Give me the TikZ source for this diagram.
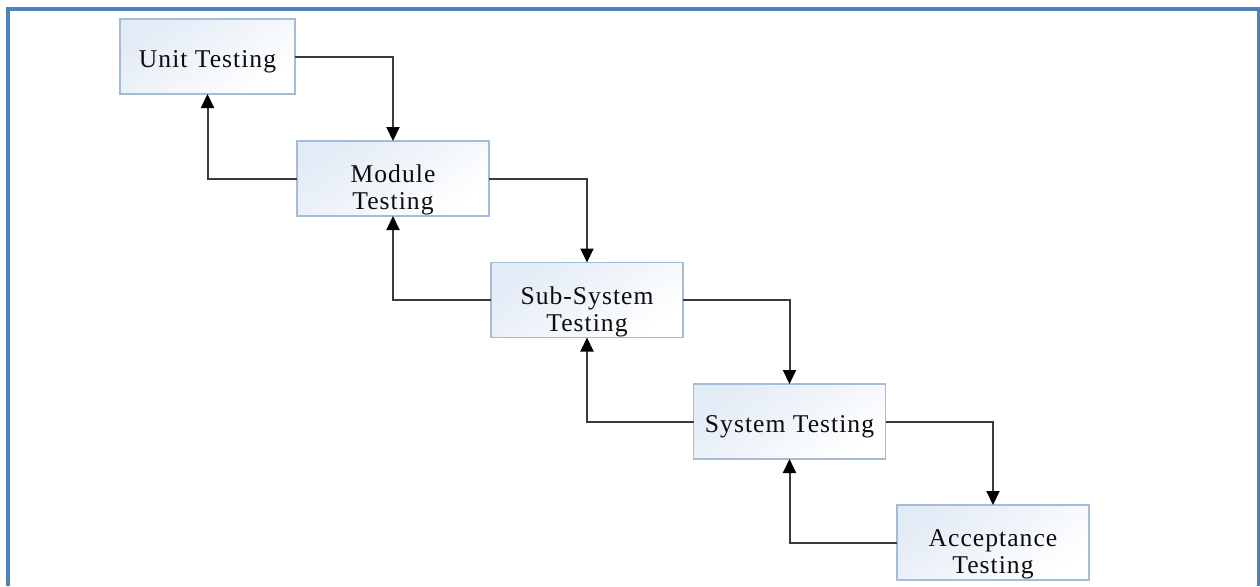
\documentclass[tikz,border=0pt]{standalone}
\usepackage{fontspec}
\setmainfont[LetterSpace=4]{Liberation Serif}
\usetikzlibrary{arrows.meta}
\definecolor{framecol}{HTML}{4F81BD}
\definecolor{boxedge}{HTML}{A3BCDA}
\definecolor{boxtint}{HTML}{E3EBF6}
\definecolor{linecol}{HTML}{3A3A3A}
\tikzset{
  stage/.style={draw=boxedge, line width=0.7pt, shading=axis,
    top color=boxtint, bottom color=white, shading angle=35,
    minimum width=96pt, minimum height=37.5pt, inner sep=0pt, outer sep=0pt},
  stagetext/.style={align=center, inner sep=0pt,
    font=\fontsize{12.8}{13.3}\selectfont, text=black!95},
  flow/.style={draw=linecol, line width=1pt,
    -{Triangle[length=7pt,width=6.5pt,color=black]}}
}
\begin{document}
\begin{tikzpicture}[x=0.5pt, y=-0.5pt]
  \useasboundingbox (0,0) rectangle (1260,586);
  % page frame
  \draw[framecol, line width=2pt] (8,586) -- (8,9) -- (1258.5,9) -- (1258.5,586);

  % testing stages
  \node[stage, minimum width=87.5pt] (unit) at (207.5,56.5) {};
  \node[stage] (module) at (393,178.5) {};
  \node[stage] (sub) at (587,300) {};
  \node[stage] (sys) at (789.5,421.5) {};
  \node[stage] (acc) at (993,542.5) {};

  % stage captions, set a little below the box centres
  \node[stagetext] (unit-t) at ([yshift=-2.5pt]unit.center) {Unit Testing};
  \node[stagetext] (module-t) at ([yshift=-5.8pt]module.center) {Module\\Testing};
  \node[stagetext] (sub-t) at ([yshift=-5.8pt]sub.center) {Sub-System\\Testing};
  \node[stagetext] (sys-t) at ([yshift=-2.5pt]sys.center) {System Testing};
  \node[stagetext] (acc-t) at ([yshift=-5.8pt]acc.center) {Acceptance\\Testing};

  % forward flow
  \draw[flow] (unit.east) -| (module.north);
  \draw[flow] (module.east) -| (sub.north);
  \draw[flow] (sub.east) -| (sys.north);
  \draw[flow] (sys.east) -| (acc.north);

  % feedback flow
  \draw[flow] (module.west) -| (unit.south);
  \draw[flow] (sub.west) -| (module.south);
  \draw[flow] (sys.west) -| (sub.south);
  \draw[flow] (acc.west) -| (sys.south);
\end{tikzpicture}
\end{document}
